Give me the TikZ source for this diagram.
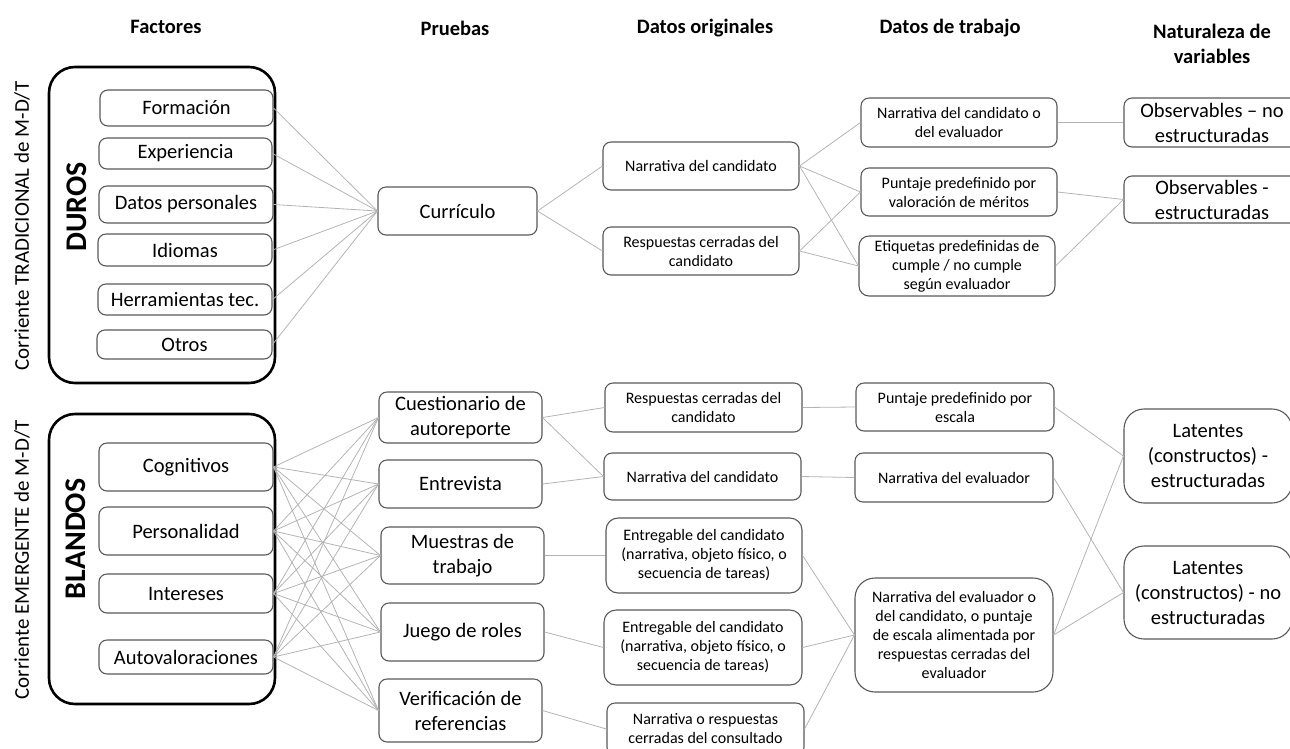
\documentclass[tikz,border=0pt]{standalone}
\usepackage{fontspec}
\setmainfont{Carlito}
\definecolor{boxc}{HTML}{595959}
\definecolor{linec}{HTML}{B4B4B4}
\begin{document}
\begin{tikzpicture}[x=1pt,y=-1pt,
  bx/.style={draw=boxc, line width=1.1pt, rounded corners=8pt, align=center, inner sep=0pt, font=\fontsize{16}{19}\selectfont},
  bxl/.style={bx, font=\fontsize{20.5}{25}\selectfont},
  big/.style={draw=black, line width=2.6pt, rounded corners=26pt, inner sep=0pt},
  hd/.style={font=\fontsize{20.5}{25}\selectfont\bfseries, align=center},
  side/.style={rotate=90, font=\fontsize{21}{24}\selectfont},
  sideb/.style={rotate=90, font=\fontsize{30}{34}\selectfont\bfseries},
  ln/.style={draw=linec, line width=0.8pt}]
\useasboundingbox (0,0) rectangle (1290,748);

% headers
\node[hd, anchor=base] (h1) at (166,33) {Factores};
\node[hd, anchor=base] (h2) at (455,35) {Pruebas};
\node[hd, anchor=base] (h3) at (705,33) {Datos originales};
\node[hd, anchor=base] (h4) at (950,33) {Datos de trabajo};
\node[hd] (h5) at (1212,44) {Naturaleza de\\variables};

% side labels
\node[side] (s1) at (22,226) {Corriente TRADICIONAL de M-D/T};
\node[side] (s2) at (22,560) {Corriente EMERGENTE de M-D/T};

% big boxes
\node[big, minimum width=226pt, minimum height=316pt] (duros) at (162,225) {};
\node[big, minimum width=226pt, minimum height=290pt] (blandos) at (162,559) {};
\node[sideb] (dl) at (77,207) {DUROS};
\node[sideb] (bl) at (76,539) {BLANDOS};

% duros factors
\node[bxl, minimum width=173pt, minimum height=36pt] (f1) at (186.5,108) {Formación};
\node[bxl, minimum width=173pt, minimum height=31pt] (f2) at (185.5,153.5) {Experiencia};
\node[bxl, minimum width=174pt, minimum height=37pt] (f3) at (186,204.5) {Datos personales};
\node[bxl, minimum width=174pt, minimum height=32pt] (f4) at (185,250) {Idiomas};
\node[bxl, minimum width=174pt, minimum height=31pt] (f5) at (185,299.5) {Herramientas tec.};
\node[bxl, minimum width=175pt, minimum height=29pt] (f6) at (184.5,344.5) {Otros};

% blandos factors
\node[bxl, minimum width=174pt, minimum height=48pt] (b1) at (186,467) {Cognitivos};
\node[bxl, minimum width=174pt, minimum height=48pt] (b2) at (186,531) {Personalidad};
\node[bxl, minimum width=174pt, minimum height=39pt] (b3) at (186,593.5) {Intereses};
\node[bxl, minimum width=174pt, minimum height=34pt] (b4) at (186,657) {Autovaloraciones};

% pruebas
\node[bxl, minimum width=159pt, minimum height=48pt] (curr) at (457.5,211) {Currículo};
\node[bxl, minimum width=163pt, minimum height=51pt] (p1) at (460.5,417.5) {Cuestionario de\\autoreporte};
\node[bxl, minimum width=163pt, minimum height=48pt] (p2) at (460.5,484) {Entrevista};
\node[bxl, minimum width=163pt, minimum height=57pt] (p3) at (462.5,555.5) {Muestras de\\trabajo};
\node[bxl, minimum width=163pt, minimum height=58pt] (p4) at (462.5,632) {Juego de roles};
\node[bxl, minimum width=163pt, minimum height=63pt] (p5) at (460.5,710.5) {Verificación de\\referencias};

% datos originales
\node[bx, minimum width=196pt, minimum height=48pt] (o1) at (701,166) {Narrativa del candidato};
\node[bx, minimum width=196pt, minimum height=48pt] (o2) at (701,251) {Respuestas cerradas del\\candidato};
\node[bx, minimum width=197pt, minimum height=49pt] (o3) at (703.5,407.5) {Respuestas cerradas del\\candidato};
\node[bx, minimum width=197pt, minimum height=47pt] (o4) at (702.5,476.5) {Narrativa del candidato};
\node[bx, rounded corners=12pt, minimum width=196pt, minimum height=75pt] (o5) at (704,555.5) {Entregable del candidato\\(narrativa, objeto físico, o\\secuencia de tareas)};
\node[bx, rounded corners=12pt, minimum width=198pt, minimum height=75pt] (o6) at (703,647.5) {Entregable del candidato\\(narrativa, objeto físico, o\\secuencia de tareas)};
\node[bx, minimum width=197pt, minimum height=52pt] (o7) at (705.5,729) {Narrativa o respuestas\\cerradas del consultado};

% datos de trabajo
\node[bx, minimum width=196pt, minimum height=49pt] (t1) at (959,122.5) {Narrativa del candidato o\\del evaluador};
\node[bx, minimum width=196pt, minimum height=48pt] (t2) at (959,192) {Puntaje predefinido por\\valoración de méritos};
\node[bx, rounded corners=10pt, minimum width=196pt, minimum height=60pt] (t3) at (957,266) {Etiquetas predefinidas de\\cumple / no cumple\\según evaluador};
\node[bx, minimum width=198pt, minimum height=48pt] (t4) at (955,407) {Puntaje predefinido por\\escala};
\node[bx, minimum width=198pt, minimum height=49pt] (t5) at (954,477.5) {Narrativa del evaluador};
\node[bx, rounded corners=20pt, minimum width=198pt, minimum height=114pt] (t6) at (954,635) {Narrativa del evaluador o\\del candidato, o puntaje\\de escala alimentada por\\respuestas cerradas del\\evaluador};

% naturaleza
\node[bxl, minimum width=176pt, minimum height=49pt] (n1) at (1212,122.5) {Observables – no\\estructuradas};
\node[bxl, minimum width=176pt, minimum height=47pt] (n2) at (1212,199.5) {Observables -\\estructuradas};
\node[bxl, rounded corners=20pt, minimum width=168pt, minimum height=94pt] (n3) at (1208,456) {Latentes\\(constructos) -\\estructuradas};
\node[bxl, rounded corners=20pt, minimum width=168pt, minimum height=93pt] (n4) at (1208,592.5) {Latentes\\(constructos) - no\\estructuradas};

% connectors: duros
\foreach \f in {f1,f2,f3,f4,f5,f6} \draw[ln] (\f.east) -- (curr.west);
\draw[ln] (curr.east) -- (o1.west);
\draw[ln] (curr.east) -- (o2.west);
\draw[ln] (o1.east) -- (t1.west);
\draw[ln] (o1.east) -- (t2.west);
\draw[ln] (o1.east) -- (t3.west);
\draw[ln] (o2.east) -- (t2.west);
\draw[ln] (o2.east) -- (t3.west);
\draw[ln] (t1.east) -- (n1.west);
\draw[ln] (t2.east) -- (n2.west);
\draw[ln] (t3.east) -- (n2.west);

% connectors: blandos
\foreach \b in {b1,b2,b3,b4} \foreach \p in {p1,p2,p3,p4,p5} \draw[ln] (\b.east) -- (\p.west);
\draw[ln] (p1.east) -- (o3.west);
\draw[ln] (p1.east) -- (o4.west);
\draw[ln] (p2.east) -- (o4.west);
\draw[ln] (p3.east) -- (o5.west);
\draw[ln] (p4.east) -- (o6.west);
\draw[ln] (p5.east) -- (o7.west);
\draw[ln] (o3.east) -- (t4.west);
\draw[ln] (o4.east) -- (t5.west);
\draw[ln] (o5.east) -- (t6.west);
\draw[ln] (o6.east) -- (t6.west);
\draw[ln] (o7.east) -- (t6.west);
\draw[ln] (t4.east) -- (n3.west);
\draw[ln] (t5.east) -- (n4.west);
\draw[ln] (t6.east) -- (n3.west);
\draw[ln] (t6.east) -- (n4.west);
\end{tikzpicture}
\end{document}
